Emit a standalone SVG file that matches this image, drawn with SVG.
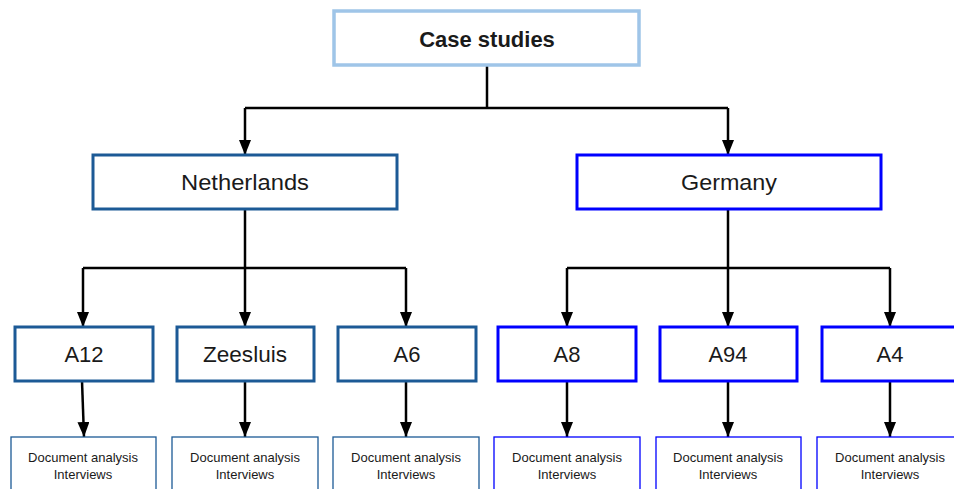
<svg xmlns="http://www.w3.org/2000/svg" width="954" height="489" viewBox="0 0 954 489">
<defs>
<marker id="ah" viewBox="0 0 15 12" refX="15" refY="6" markerWidth="15" markerHeight="12" markerUnits="userSpaceOnUse" orient="auto">
<path d="M0,0 L15,6 L0,12 Z" fill="#000"/>
</marker>
<style>
.bg{fill:#fff}
.root{fill:#fff;stroke:#9fc5e8;stroke-width:3.5}
.nl{fill:#fff;stroke:#1c5a96;stroke-width:3}
.de{fill:#fff;stroke:#0000ff;stroke-width:3}
.nls{fill:#fff;stroke:#1c5a96;stroke-width:1.3}
.des{fill:#fff;stroke:#0000ff;stroke-width:1.3}
.t{font-family:"Liberation Sans",Arial,sans-serif;fill:#1a1a1a;text-anchor:middle}
.big{font-size:22px}
.mid{font-size:22px}
.sm{font-size:13px}
.c{fill:none;stroke:#000;stroke-width:2.5}
.ca{fill:none;stroke:#000;stroke-width:2.5;marker-end:url(#ah)}
</style>
</defs>
<rect class="bg" width="954" height="489"/>
<g id="connectors">
<path class="c" d="M487,65 V108"/>
<path class="c" d="M245,108 H728"/>
<path class="ca" d="M245,108 V155"/>
<path class="ca" d="M728,108 V155"/>
<path class="c" d="M245,209 V268"/>
<path class="c" d="M83,268 H406"/>
<path class="ca" d="M83,268 V327"/>
<path class="ca" d="M245,268 V327"/>
<path class="ca" d="M406,268 V327"/>
<path class="c" d="M728,209 V268"/>
<path class="c" d="M567,268 H890"/>
<path class="ca" d="M567,268 V327"/>
<path class="ca" d="M728,268 V327"/>
<path class="ca" d="M890,268 V327"/>
<path class="ca" d="M82,381 L84,437"/>
<path class="ca" d="M245,381 V437"/>
<path class="ca" d="M406,381 V437"/>
<path class="ca" d="M567,381 V437"/>
<path class="ca" d="M728,381 V437"/>
<path class="ca" d="M890,381 V437"/>
</g>
<g id="case-studies">
<rect class="root" x="334" y="11" width="305" height="54"/>
<text class="t big" x="487" y="47" font-weight="bold">Case studies</text>
</g>
<g id="netherlands">
<rect class="nl" x="93" y="155" width="304" height="54"/>
<text class="t mid" x="245" y="190" textLength="128" lengthAdjust="spacingAndGlyphs">Netherlands</text>
</g>
<g id="germany">
<rect class="de" x="577" y="155" width="304" height="54"/>
<text class="t mid" x="729" y="190" textLength="96" lengthAdjust="spacingAndGlyphs">Germany</text>
</g>
<g id="a12">
<rect class="nl" x="15" y="327" width="138" height="54"/>
<text class="t mid" x="84" y="362">A12</text>
</g>
<g id="zeesluis">
<rect class="nl" x="177" y="327" width="137" height="54"/>
<text class="t mid" x="245" y="362" textLength="84" lengthAdjust="spacingAndGlyphs">Zeesluis</text>
</g>
<g id="a6">
<rect class="nl" x="338" y="327" width="138" height="54"/>
<text class="t mid" x="407" y="362">A6</text>
</g>
<g id="a8">
<rect class="de" x="498" y="327" width="138" height="54"/>
<text class="t mid" x="567" y="362">A8</text>
</g>
<g id="a94">
<rect class="de" x="660" y="327" width="137" height="54"/>
<text class="t mid" x="728" y="362">A94</text>
</g>
<g id="a4">
<rect class="de" x="822" y="327" width="138" height="54"/>
<text class="t mid" x="890" y="362">A4</text>
</g>
<g id="a12-methods">
<rect class="nls" x="11" y="437" width="145" height="60"/>
<text class="t sm" x="83" y="462">Document analysis</text>
<text class="t sm" x="83" y="479">Interviews</text>
</g>
<g id="zeesluis-methods">
<rect class="nls" x="172" y="437" width="146" height="60"/>
<text class="t sm" x="245" y="462">Document analysis</text>
<text class="t sm" x="245" y="479">Interviews</text>
</g>
<g id="a6-methods">
<rect class="nls" x="333" y="437" width="146" height="60"/>
<text class="t sm" x="406" y="462">Document analysis</text>
<text class="t sm" x="406" y="479">Interviews</text>
</g>
<g id="a8-methods">
<rect class="des" x="494" y="437" width="146" height="60"/>
<text class="t sm" x="567" y="462">Document analysis</text>
<text class="t sm" x="567" y="479">Interviews</text>
</g>
<g id="a94-methods">
<rect class="des" x="656" y="437" width="145" height="60"/>
<text class="t sm" x="728" y="462">Document analysis</text>
<text class="t sm" x="728" y="479">Interviews</text>
</g>
<g id="a4-methods">
<rect class="des" x="817" y="437" width="146" height="60"/>
<text class="t sm" x="890" y="462">Document analysis</text>
<text class="t sm" x="890" y="479">Interviews</text>
</g>
</svg>
